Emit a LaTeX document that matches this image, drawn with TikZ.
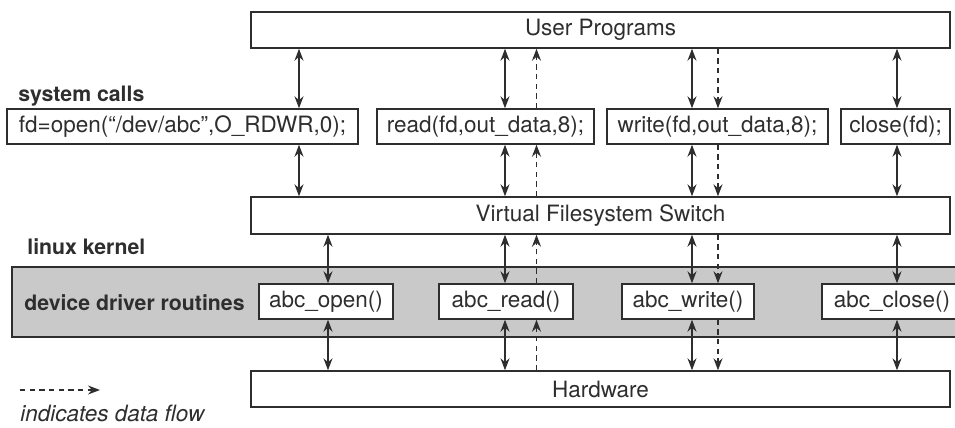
\documentclass[tikz,border=0pt]{standalone}
\usepackage{fontspec}
\setsansfont{TeX Gyre Heros}
\usepackage{tikz}
\usetikzlibrary{arrows.meta}
\definecolor{ink}{HTML}{2E2E2E}
\definecolor{band}{HTML}{C9C9C9}
\tikzset{box/.style={draw=ink,fill=white,line width=0.8pt,inner sep=0pt,minimum height=7mm,font=\sffamily\fontsize{12.8}{15}\selectfont,text=ink},lbl/.style={anchor=west,inner sep=0pt,font=\sffamily\bfseries\fontsize{12.1}{15}\selectfont,text=ink},arr/.style={{Stealth[length=2.4mm,width=1.8mm]}-{Stealth[length=2.4mm,width=1.8mm]},line width=0.75pt,draw=ink},flow/.style={-{Stealth[length=2.4mm,width=1.8mm]},line width=0.75pt,draw=ink,dash pattern=on 3pt off 2.5pt}}

\begin{document}
\begin{tikzpicture}
\useasboundingbox (0,0) rectangle (19.1,-8.54);
\node[box,minimum width=13.98cm,minimum height=7.2mm] (usr) at (12.01,-0.6) {User Programs};
\node[lbl] (sclbl) at (0.36,-1.92) {system calls};
\node[box,minimum width=7.02cm] (sopen) at (3.65,-2.53) {fd=open(“/dev/abc”,O\_RDWR,0);};
\node[box,minimum width=4.34cm] (sread) at (9.71,-2.53) {read(fd,out\_data,8);};
\node[box,minimum width=4.42cm] (swrite) at (14.35,-2.53) {write(fd,out\_data,8);};
\node[box,minimum width=2.18cm] (sclose) at (17.91,-2.53) {close(fd);};
\node[box,minimum width=13.98cm,minimum height=7.4mm] (vfs) at (12.01,-4.31) {Virtual Filesystem Switch};
\node[lbl] (lklbl) at (0.54,-4.94) {linux kernel};
\node[box,fill=band,minimum width=19.06cm,minimum height=14mm] (drv) at (9.77,-6.04) {};
\node[lbl] (ddlbl) at (0.48,-6.06) {device driver routines};
\node[box,minimum width=2.68cm] (dopen) at (6.52,-6.03) {abc\_open()};
\node[box,minimum width=2.68cm] (dread) at (10.12,-6.03) {abc\_read()};
\node[box,minimum width=2.64cm] (dwrite) at (13.76,-6.03) {abc\_write()};
\node[box,minimum width=2.8cm] (dclose) at (17.84,-6.03) {abc\_close()};
\node[box,minimum width=13.98cm,minimum height=7.2mm] (hw) at (12.01,-7.78) {Hardware};
% columns of the connectors
\coordinate (xo) at (5.98,0);
\coordinate (xod) at (6.56,0);
\coordinate (xr) at (10.10,0);
\coordinate (xrd) at (10.73,0);
\coordinate (xw) at (13.84,0);
\coordinate (xwd) at (14.36,0);
\coordinate (xc) at (17.94,0);
\draw[arr] (usr.south-|xo)--(sopen.north-|xo);
\draw[arr] (sopen.south-|xo)--(vfs.north-|xo);
\draw[arr] (vfs.south-|xod)--(dopen.north-|xod);
\draw[arr] (dopen.south-|xod)--(hw.north-|xod);
\draw[arr] (usr.south-|xr)--(sread.north-|xr);
\draw[arr] (sread.south-|xr)--(vfs.north-|xr);
\draw[arr] (vfs.south-|xr)--(dread.north-|xr);
\draw[arr] (dread.south-|xr)--(hw.north-|xr);
\draw[flow] (sread.north-|xrd)--(usr.south-|xrd);
\draw[flow] (vfs.north-|xrd)--(sread.south-|xrd);
\draw[flow] (dread.north-|xrd)--(vfs.south-|xrd);
\draw[flow] (hw.north-|xrd)--(dread.south-|xrd);
\draw[arr] (usr.south-|xw)--(swrite.north-|xw);
\draw[arr] (swrite.south-|xw)--(vfs.north-|xw);
\draw[arr] (vfs.south-|xw)--(dwrite.north-|xw);
\draw[arr] (dwrite.south-|xw)--(hw.north-|xw);
\draw[flow] (usr.south-|xwd)--(swrite.north-|xwd);
\draw[flow] (swrite.south-|xwd)--(vfs.north-|xwd);
\draw[flow] (vfs.south-|xwd)--(dwrite.north-|xwd);
\draw[flow] (dwrite.south-|xwd)--(hw.north-|xwd);
\draw[arr] (usr.south-|xc)--(sclose.north-|xc);
\draw[arr] (sclose.south-|xc)--(vfs.north-|xc);
\draw[arr] (vfs.south-|xc)--(dclose.north-|xc);
\draw[arr] (dclose.south-|xc)--(hw.north-|xc);
% legend
\coordinate (lga) at (0.4,-7.8);
\coordinate (lgb) at (2.0,-7.8);
\draw[flow] (lga)--(lgb);
\node[anchor=west,inner sep=0pt,font=\sffamily\itshape\fontsize{12.8}{15}\selectfont,text=ink] (lgtxt) at (0.4,-8.27) {indicates data flow};
\end{tikzpicture}
\end{document}
